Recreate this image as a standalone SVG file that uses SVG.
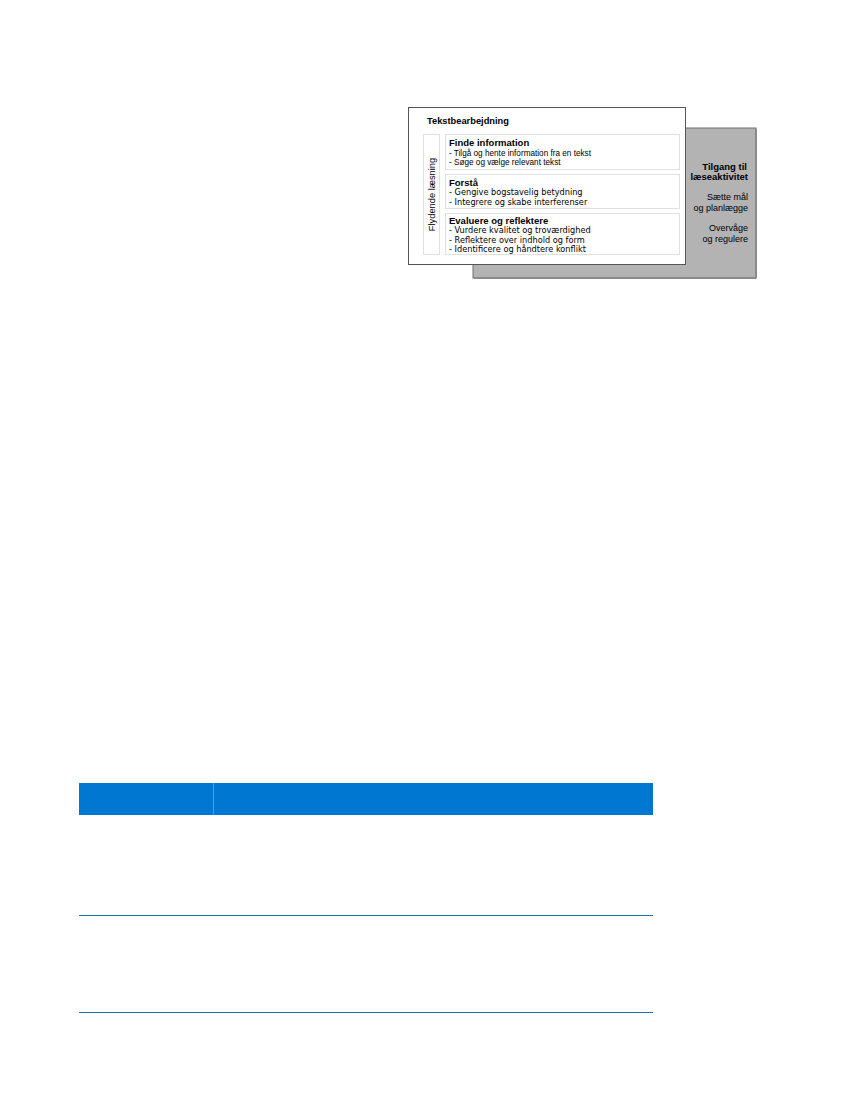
<svg xmlns="http://www.w3.org/2000/svg" width="850" height="1100" viewBox="0 0 850 1100">
<style>
.t{font-family:"Liberation Sans",Arial,sans-serif;fill:#000}
.d{font-family:"DejaVu Sans",sans-serif;fill:#000}
.b{font-weight:bold}
.box{fill:#fff;stroke:#e0e0e0;stroke-width:1}
</style>
<rect width="850" height="1100" fill="#fff"/>
<g id="gray-panel">
<rect x="473" y="128" width="283" height="150" fill="#b3b3b3" stroke="#6e6e6e" stroke-width="1"/>
<line x1="756" y1="129" x2="756" y2="278" stroke="#8a8a8a" stroke-width="2"/>
<line x1="474" y1="278" x2="756" y2="278" stroke="#8a8a8a" stroke-width="2"/>
<text class="t b" font-size="9.5" text-anchor="end" x="747" y="170">Tilgang til</text>
<text class="t b" font-size="9.5" text-anchor="end" x="748" y="180">læseaktivitet</text>
<text class="t" font-size="9" text-anchor="end" x="748" y="200">Sætte mål</text>
<text class="t" font-size="9" text-anchor="end" x="748" y="211">og planlægge</text>
<text class="t" font-size="9" text-anchor="end" x="748" y="231">Overvåge</text>
<text class="t" font-size="9" text-anchor="end" x="748" y="242">og regulere</text>
</g>
<g id="tekstbearbejdning">
<rect x="408.5" y="107.5" width="277" height="157" fill="#fff" stroke="#555" stroke-width="1"/>
<text class="t b" font-size="9.3" x="427" y="124">Tekstbearbejdning</text>
</g>
<g id="flydende">
<rect class="box" x="423.5" y="134.5" width="16" height="120"/>
<text class="t" font-size="9.3" text-anchor="middle" transform="translate(434.8,194.5) rotate(-90)">Flydende læsning</text>
</g>
<g id="finde">
<rect class="box" x="445.5" y="134.5" width="234" height="35"/>
<text class="t b" font-size="9.5" x="449" y="146">Finde information</text>
<text class="t" font-size="8.2" x="449" y="155.5">- Tilgå og hente information fra en tekst</text>
<text class="t" font-size="8.2" x="449" y="164.5">- Søge og vælge relevant tekst</text>
</g>
<g id="forstaa">
<rect class="box" x="445.5" y="174.5" width="234" height="34"/>
<text class="t b" font-size="9.5" x="449" y="186">Forstå</text>
<text class="d" font-size="8.2" x="449" y="195">- Gengive bogstavelig betydning</text>
<text class="d" font-size="8.2" x="449" y="204.5">- Integrere og skabe interferenser</text>
</g>
<g id="evaluere">
<rect class="box" x="445.5" y="213.5" width="234" height="41"/>
<text class="t b" font-size="9.5" x="449" y="224">Evaluere og reflektere</text>
<text class="d" font-size="8.2" x="449" y="233">- Vurdere kvalitet og troværdighed</text>
<text class="d" font-size="8.2" x="449" y="242.5">- Reflektere over indhold og form</text>
<text class="d" font-size="8.2" x="449" y="252">- Identificere og håndtere konflikt</text>
</g>
<g id="table">
<rect x="79" y="783" width="574" height="32" fill="#0077d1"/>
<line x1="213.5" y1="783" x2="213.5" y2="815" stroke="#4a9be0" stroke-width="1"/>
<line x1="79" y1="915.5" x2="653" y2="915.5" stroke="#1f6fb8" stroke-width="1.2"/>
<line x1="79" y1="1012.5" x2="653" y2="1012.5" stroke="#1f6fb8" stroke-width="1.2"/>
</g>
<g id="connectors"/>
</svg>
